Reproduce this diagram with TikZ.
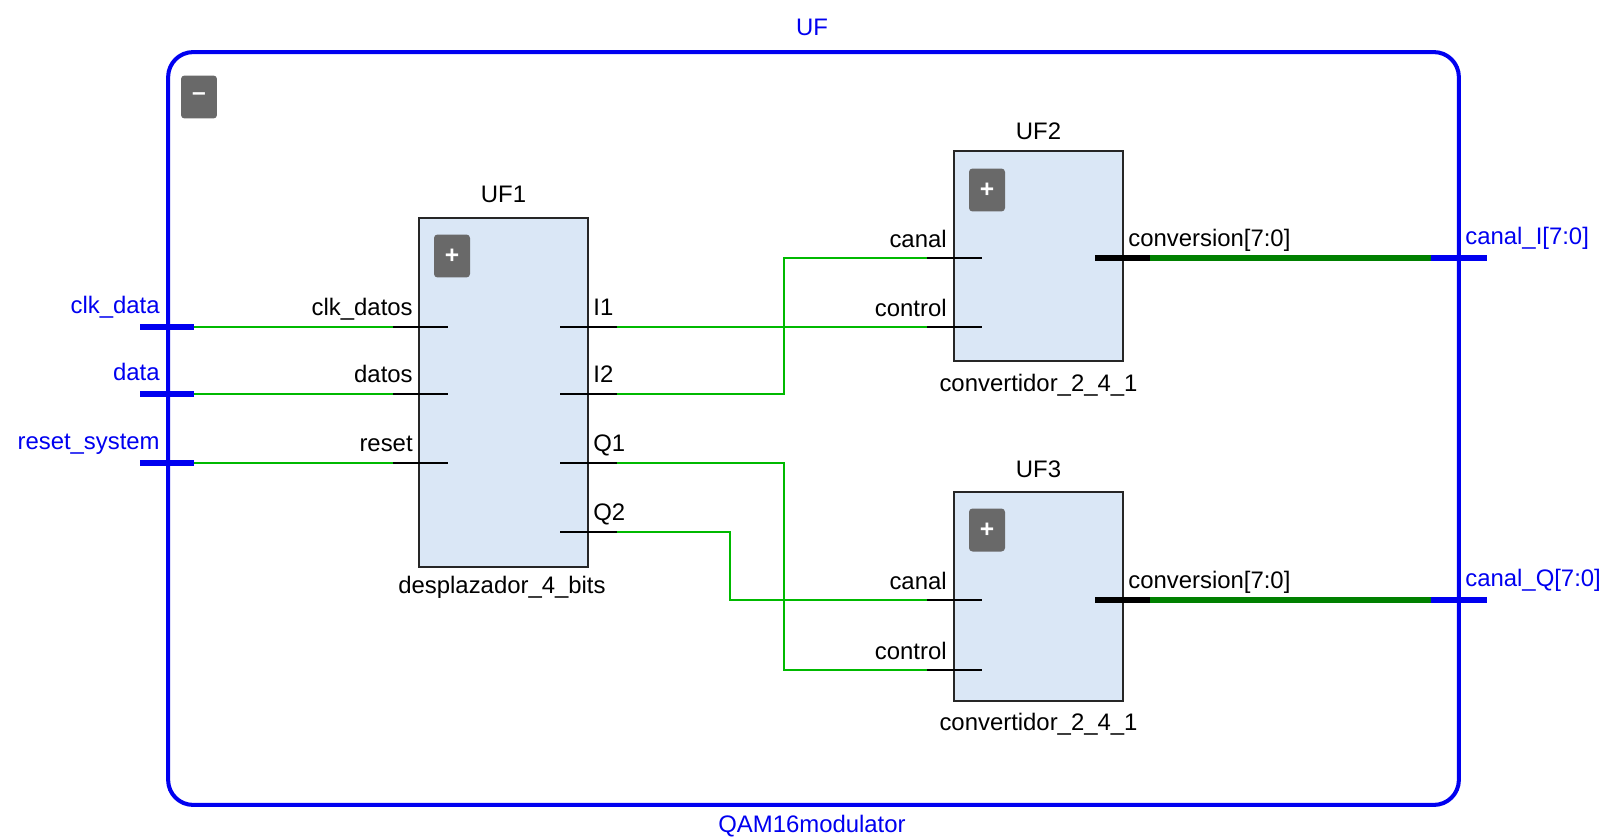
\documentclass[tikz,border=0pt]{standalone}
\usepackage{fontspec}
\setmainfont{Liberation Sans}
\usepackage{tikz}
\usetikzlibrary{positioning}
\definecolor{netgreen}{RGB}{0,185,0}
\definecolor{busgreen}{RGB}{0,128,0}
\definecolor{portblue}{RGB}{0,0,240}
\definecolor{blockfill}{RGB}{218,231,246}
\definecolor{btngray}{RGB}{105,105,105}

\begin{document}
\begin{tikzpicture}[
  x=0.02cm, y=-0.02cm,
  every node/.style={font=\fontsize{13.6}{16}\selectfont},
  frame/.style={draw=portblue, line width=2.3pt, rounded corners=0.5cm, minimum width=25.82cm, minimum height=15.06cm},
  block/.style={draw=black!85, line width=1pt, fill=blockfill, minimum width=3.38cm},
  btn/.style={fill=btngray, rounded corners=2pt, minimum width=0.72cm, minimum height=0.86cm, inner sep=0pt, text=white, font=\bfseries\fontsize{14}{14}\selectfont},
  lbl/.style={inner sep=0pt},
  toplbl/.style={inner sep=0pt, text=portblue},
  net/.style={netgreen, line width=0.9pt},
  stub/.style={black, line width=0.9pt},
  topport/.style={portblue, line width=3pt},
  bus/.style={busgreen, line width=3.4pt},
  busstub/.style={black, line width=3.4pt},
  busport/.style={portblue, line width=3.4pt}
]
\useasboundingbox (0,0) rectangle (1623,838);

% top level
\node[frame] (uf) at (813.5,428.5) {};
\node[toplbl, anchor=base] (ufname) at (812,36) {UF};
\node[toplbl, anchor=base] (uftype) at (812,832) {QAM16modulator};
\node[btn] (ufbtn) at (199,97) {--};

% blocks
\node[block, minimum height=6.98cm] (uf1) at (503.5,392.5) {};
\node[lbl, anchor=base] (uf1name) at (503.5,202) {UF1};
\node[lbl, anchor=base] (uf1type) at (502,593) {desplazador\_4\_bits};
\node[btn] (uf1btn) at (452,256) {+};

\node[block, minimum height=4.2cm] (uf2) at (1038.5,256) {};
\node[lbl, anchor=base] (uf2name) at (1038.5,139) {UF2};
\node[lbl, anchor=base] (uf2type) at (1038.5,391) {convertidor\_2\_4\_1};
\node[btn] (uf2btn) at (987,190) {+};

\node[block, minimum height=4.18cm] (uf3) at (1038.5,596.5) {};
\node[lbl, anchor=base] (uf3name) at (1038.5,477) {UF3};
\node[lbl, anchor=base] (uf3type) at (1038.5,730) {convertidor\_2\_4\_1};
\node[btn] (uf3btn) at (987,530) {+};

% inputs into UF1
\foreach \p/\top/\pin/\y in {clk/clk\_data/clk\_datos/327, dat/data/datos/394, rst/reset\_system/reset/463} {
  \coordinate (\p in) at (140,\y);
  \coordinate (\p out) at (194,\y);
  \coordinate (uf1\p) at (393,\y);
  \coordinate (uf1\p end) at (448,\y);
  \node[toplbl, anchor=base east] (\p lbl) at (160,\y-14) {\top};
  \node[lbl, anchor=base east] (uf1\p lbl) at (413,\y-12) {\pin};
  \draw[topport] (\p in) -- (\p out);
  \draw[net] (\p out) -- (uf1\p);
  \draw[stub] (uf1\p) -- (uf1\p end);
}

% UF1 outputs
\foreach \p/\txt/\y in {ia/I1/327, ib/I2/394, qa/Q1/463, qb/Q2/532} {
  \coordinate (uf1\p end) at (560,\y);
  \coordinate (uf1\p) at (617,\y);
  \node[lbl, anchor=base west] (uf1\p lbl) at (593,\y-12) {\txt};
  \draw[stub] (uf1\p end) -- (uf1\p);
}

% converter inputs
\foreach \u/\ya/\yb in {uf2/258/327, uf3/600/670} {
  \coordinate (\u canal) at (927,\ya);
  \coordinate (\u control) at (927,\yb);
  \coordinate (\u canal end) at (982,\ya);
  \coordinate (\u control end) at (982,\yb);
  \node[lbl, anchor=base east] (\u canal lbl) at (947,\ya-11) {canal};
  \node[lbl, anchor=base east] (\u control lbl) at (947,\yb-11) {control};
  \draw[stub] (\u canal) -- (\u canal end);
  \draw[stub] (\u control) -- (\u control end);
}

% nets between blocks
\coordinate (jogA) at (784,0);
\coordinate (jogB) at (730,0);
\draw[net] (uf1ia) -- (uf2control);
\draw[net] (uf1ib) -- (jogA |- uf1ib) -- (jogA |- uf2canal) -- (uf2canal);
\draw[net] (uf1qa) -- (jogA |- uf1qa) -- (jogA |- uf3control) -- (uf3control);
\draw[net] (uf1qb) -- (jogB |- uf1qb) -- (jogB |- uf3canal) -- (uf3canal);

% outputs
\foreach \u/\top/\y in {uf2/canal\_I[7:0]/258, uf3/canal\_Q[7:0]/600} {
  \coordinate (\u convstart) at (1095,\y);
  \coordinate (\u conv) at (1150,\y);
  \coordinate (\u port) at (1431,\y);
  \coordinate (\u portend) at (1487,\y);
  \node[lbl, anchor=base west] (\u convlbl) at (1128,\y-12) {conversion[7:0]};
  \node[toplbl, anchor=base west] (\u portlbl) at (1465,\y-14) {\top};
  \draw[busstub] (\u convstart) -- (\u conv);
  \draw[bus] (\u conv) -- (\u port);
  \draw[busport] (\u port) -- (\u portend);
}
\end{tikzpicture}
\end{document}
